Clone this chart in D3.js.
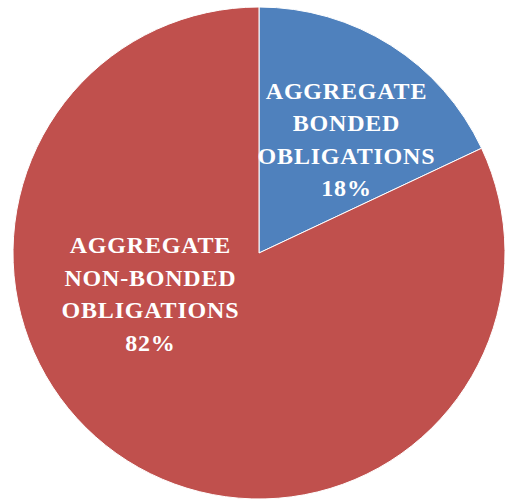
<!DOCTYPE html>
<html>
<head>
<meta charset="utf-8">
<script src="https://cdn.jsdelivr.net/npm/d3@7"></script>
<style>
	body { margin: 0; background: #fff; }
	.slicelabel { font-family: "Liberation Serif", "Times New Roman", serif; font-weight: bold; fill: #fff; letter-spacing: 0.8px; }
</style>
</head>
<body>
<svg class="pieArea"></svg>
<script>
/* Bonded vs non-bonded obligations pie */
var categories = ["AGGREGATE BONDED OBLIGATIONS", "AGGREGATE NON-BONDED OBLIGATIONS"];
var shares = [18, 82];
var labelLines = [
	["AGGREGATE", "BONDED", "OBLIGATIONS", "18%"],
	["AGGREGATE", "NON-BONDED", "OBLIGATIONS", "82%"]
];
var colors = ["#4F81BD", "#C0504D"];

function drawPie(areaID) {
	var width = 506,
		height = 501,
		radius = 246,
		cx = 259,
		cy = 253;

	var data = categories.map(function(c, i) {
		return {name: c, value: shares[i], lines: labelLines[i]};
	});

	var pie = d3.pie()
		.sort(null)
		.value(function(d) { return d.value; });

	var arc = d3.arc()
		.innerRadius(0)
		.outerRadius(radius);

	var color = d3.scaleOrdinal()
		.domain(categories)
		.range(colors);

	var chart = d3.select("." + areaID)
		.attr("width", width)
		.attr("height", height)
	  .append("g")
		.attr("transform", "translate(" + cx + "," + cy + ")");

	var arcs = pie(data);

	// Draw slices
	chart.selectAll(".slice")
		.data(arcs)
	  .enter().append("path")
		.attr("class", "slice")
		.attr("d", arc)
		.attr("fill", function(d) { return color(d.data.name); })
		.attr("stroke", "#fff")
		.attr("stroke-width", 1);

	// Label placement (in radius units, relative to center) like Excel's best fit
	var labelPos = [[0.354, -0.462], [-0.443, 0.168]];
	var lineGap = 32.5,
		fontSize = 24;

	var labels = chart.selectAll(".slicelabel")
		.data(arcs)
	  .enter().append("text")
		.attr("class", "slicelabel")
		.attr("text-anchor", "middle")
		.style("font-size", fontSize + "px")
		.attr("transform", function(d, i) {
			var p = labelPos[i];
			return "translate(" + (p[0] * radius) + "," + (p[1] * radius) + ")";
		});

	labels.selectAll("tspan")
		.data(function(d) { return d.data.lines; })
	  .enter().append("tspan")
		.attr("x", 0.4)
		.attr("y", function(d, i, nodes) {
			var n = nodes.length;
			return (i - (n - 1) / 2) * lineGap + fontSize * 0.33;
		})
		.text(function(d) { return d; });
}

drawPie("pieArea");
</script>
</body>
</html>
